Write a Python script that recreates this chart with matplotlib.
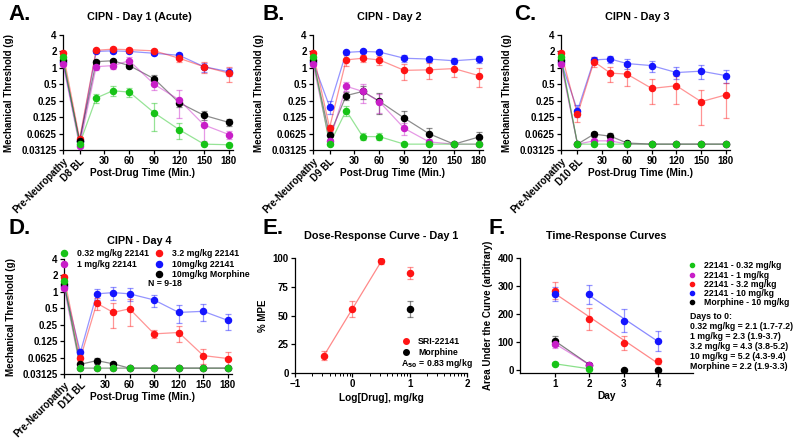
import numpy as np
import matplotlib
matplotlib.use('Agg')
import matplotlib.pyplot as plt
from matplotlib.ticker import FixedLocator, NullLocator
from matplotlib.lines import Line2D

plt.rcParams['font.family'] = ['Liberation Sans', 'DejaVu Sans']
plt.rcParams['font.weight'] = 'bold'
plt.rcParams['axes.labelweight'] = 'bold'
plt.rcParams['axes.titleweight'] = 'bold'

# ---------------- data ----------------
times = [-20, 0, 20, 40, 60, 90, 120, 150, 180]
time_ticks = [-20, 0, 30, 60, 90, 120, 150, 180]
time_ticklabels = ['Pre-Neuropathy', 'BL', '30', '60', '90', '120', '150', '180']
baseline_labels = ['D8 BL', 'D9 BL', 'D10 BL', 'D11 BL']
panel_titles = ['CIPN - Day 1 (Acute)', 'CIPN - Day 2', 'CIPN - Day 3', 'CIPN - Day 4']
y_ticks = [0.03125, 0.0625, 0.125, 0.25, 0.5, 1, 2, 4]
y_ticklabels = ['0.03125', '0.0625', '0.125', '0.25', '0.5', '1', '2', '4']

series_labels = ['0.32 mg/kg 22141', '1 mg/kg 22141', '3.2 mg/kg 22141',
                 '10mg/kg 22141', '10mg/kg Morphine']

# Day 1
d1_green = [1.55, 0.040, 0.28, 0.38, 0.36, 0.15, 0.074, 0.040, 0.039]
d1_green_err = [0.15, 0.003, 0.05, 0.08, 0.07, 0.08, 0.025, 0.002, 0.002]
d1_magenta = [1.20, 0.037, 1.05, 1.10, 1.35, 0.50, 0.26, 0.090, 0.060]
d1_magenta_err = [0.10, 0.002, 0.15, 0.15, 0.20, 0.10, 0.14, 0.045, 0.010]
d1_red = [1.90, 0.050, 2.10, 2.20, 2.15, 2.05, 1.50, 1.05, 0.80]
d1_red_err = [0.10, 0.005, 0.15, 0.20, 0.20, 0.15, 0.20, 0.25, 0.25]
d1_blue = [1.30, 0.045, 2.00, 2.05, 2.00, 1.85, 1.70, 1.05, 0.85]
d1_blue_err = [0.10, 0.003, 0.15, 0.15, 0.10, 0.15, 0.20, 0.20, 0.15]
d1_black = [1.40, 0.045, 1.30, 1.35, 1.10, 0.63, 0.23, 0.135, 0.100]
d1_black_err = [0.10, 0.003, 0.10, 0.10, 0.10, 0.10, 0.04, 0.025, 0.015]

# Day 2
d2_green = [1.55, 0.040, 0.165, 0.055, 0.055, 0.040, 0.040, 0.040, 0.040]
d2_green_err = [0.15, 0.002, 0.035, 0.008, 0.008, 0.002, 0.002, 0.002, 0.002]
d2_magenta = [1.20, 0.045, 0.46, 0.37, 0.24, 0.078, 0.044, 0.040, 0.040]
d2_magenta_err = [0.10, 0.003, 0.08, 0.14, 0.09, 0.020, 0.005, 0.002, 0.002]
d2_red = [1.90, 0.080, 1.40, 1.50, 1.40, 0.90, 0.92, 0.97, 0.72]
d2_red_err = [0.10, 0.010, 0.30, 0.20, 0.25, 0.30, 0.30, 0.30, 0.28]
d2_blue = [1.30, 0.195, 1.92, 2.00, 1.95, 1.50, 1.45, 1.35, 1.45]
d2_blue_err = [0.10, 0.050, 0.15, 0.10, 0.10, 0.20, 0.15, 0.15, 0.20]
d2_black = [1.40, 0.058, 0.31, 0.37, 0.245, 0.12, 0.062, 0.040, 0.054]
d2_black_err = [0.10, 0.008, 0.05, 0.10, 0.10, 0.04, 0.018, 0.003, 0.012]

# Day 3
d3_green = [1.55, 0.040, 0.040, 0.040, 0.040, 0.040, 0.040, 0.040, 0.040]
d3_green_err = [0.15, 0.001, 0.001, 0.001, 0.001, 0.001, 0.001, 0.001, 0.001]
d3_magenta = [1.20, 0.040, 0.046, 0.046, 0.040, 0.040, 0.040, 0.040, 0.040]
d3_magenta_err = [0.10, 0.001, 0.004, 0.004, 0.001, 0.001, 0.001, 0.001, 0.001]
d3_red = [1.90, 0.140, 1.30, 0.80, 0.77, 0.42, 0.47, 0.24, 0.32]
d3_red_err = [0.10, 0.040, 0.25, 0.25, 0.30, 0.20, 0.25, 0.15, 0.20]
d3_blue = [1.30, 0.165, 1.40, 1.45, 1.20, 1.10, 0.82, 0.87, 0.72]
d3_blue_err = [0.10, 0.040, 0.15, 0.20, 0.25, 0.25, 0.20, 0.25, 0.20]
d3_black = [1.40, 0.040, 0.061, 0.056, 0.042, 0.040, 0.040, 0.040, 0.040]
d3_black_err = [0.10, 0.001, 0.007, 0.008, 0.002, 0.001, 0.001, 0.001, 0.001]

# Day 4
d4_green = [1.55, 0.040, 0.040, 0.040, 0.040, 0.040, 0.040, 0.040, 0.040]
d4_green_err = [0.15, 0.001, 0.001, 0.001, 0.001, 0.001, 0.001, 0.001, 0.001]
d4_magenta = [1.20, 0.040, 0.040, 0.040, 0.040, 0.040, 0.040, 0.040, 0.040]
d4_magenta_err = [0.10, 0.001, 0.001, 0.001, 0.001, 0.001, 0.001, 0.001, 0.001]
d4_red = [1.90, 0.061, 0.62, 0.42, 0.49, 0.17, 0.18, 0.068, 0.060]
d4_red_err = [0.10, 0.008, 0.15, 0.20, 0.25, 0.03, 0.06, 0.020, 0.020]
d4_blue = [1.30, 0.078, 0.92, 0.97, 0.92, 0.71, 0.42, 0.44, 0.30]
d4_blue_err = [0.10, 0.010, 0.20, 0.25, 0.25, 0.18, 0.15, 0.15, 0.10]
d4_black = [1.40, 0.047, 0.055, 0.048, 0.040, 0.040, 0.040, 0.040, 0.040]
d4_black_err = [0.10, 0.003, 0.007, 0.003, 0.001, 0.001, 0.001, 0.001, 0.001]

# Dose response (Day 1)
dr_log_dose = [np.log10(0.32), 0.0, np.log10(3.2), 1.0]
dr_mpe = [15, 56, 97, 87]
dr_mpe_err = [4, 7, 2, 5]
dr_morph_log_dose = [1.0]
dr_morph_mpe = [56]
dr_morph_err = [7]

# Time response (AUC)
days = [1, 2, 3, 4]
auc_green = [23, 5]
auc_green_err = [6, 2]
auc_magenta = [95, 20]
auc_magenta_err = [15, 4]
auc_red = [283, 182, 97, 33]
auc_red_err = [30, 40, 25, 12]
auc_blue = [270, 270, 177, 105]
auc_blue_err = [25, 35, 40, 35]
auc_black = [105, 20, 0, 0]
auc_black_err = [18, 3, 0, 0]
auc_legend = ['22141 - 0.32 mg/kg', '22141 - 1 mg/kg', '22141 - 3.2 mg/kg',
              '22141 - 10 mg/kg', 'Morphine - 10 mg/kg']
days_to_zero = ['Days to 0:', '0.32 mg/kg = 2.1 (1.7-7.2)', '1 mg/kg = 2.3 (1.9-3.7)',
                '3.2 mg/kg = 4.3 (3.8-5.2)', '10 mg/kg = 5.2 (4.3-9.4)',
                'Morphine = 2.2 (1.9-3.3)']

# ---------------- style ----------------
C_GREEN = '#17c317'
C_MAG = '#c81ec8'
C_RED = '#ff1414'
C_BLUE = '#1414ff'
C_BLACK = '#000000'
TICK_FS = 7.0
LAB_FS = 7.3
TITLE_FS = 7.8
LEG_FS = 6.3
MS = 4.4

W, H = 800, 438
fig = plt.figure(figsize=(W / 100, H / 100), dpi=100)


def px_axes(left, top, right, bottom):
    return fig.add_axes([left / W, 1 - bottom / H, (right - left) / W, (bottom - top) / H])


def style_axes(ax):
    for s in ('top', 'right'):
        ax.spines[s].set_visible(False)
    for s in ('left', 'bottom'):
        ax.spines[s].set_linewidth(0.9)
    ax.tick_params(axis='both', which='major', length=3, width=0.9, labelsize=TICK_FS, pad=1.5)
    ax.tick_params(axis='both', which='minor', length=1.8, width=0.7)
    for lbl in ax.get_xticklabels() + ax.get_yticklabels():
        lbl.set_fontweight('bold')


def threshold_panel(ax, series, bl_label, title):
    for i, (col, mean, err) in enumerate(series):
        ax.errorbar(times, mean, yerr=err, color=col, alpha=0.45, lw=0.9,
                    elinewidth=0.9, capsize=2, capthick=0.9, zorder=2 + i, clip_on=False)
        ax.plot(times, mean, 'o', color=col, ms=MS, zorder=10 + i, clip_on=False)
    ax.set_yscale('log', base=2)
    ax.set_ylim(0.03125, 4)
    ax.yaxis.set_major_locator(FixedLocator(y_ticks))
    ax.set_yticklabels(y_ticklabels)
    ax.yaxis.set_minor_locator(NullLocator())
    ax.set_xlim(-20, 185)
    ax.set_xticks(time_ticks)
    labels = list(time_ticklabels)
    labels[1] = bl_label
    ax.set_xticklabels(labels)
    style_axes(ax)
    for lbl in ax.get_xticklabels()[:2]:
        lbl.set_rotation(45)
        lbl.set_ha('right')
        lbl.set_rotation_mode('anchor')
    ax.set_ylabel('Mechanical Threshold (g)', fontsize=TICK_FS, fontweight='bold')
    ax.yaxis.set_label_coords(-49 / 170, 0.5)
    ax.set_xlabel('Post-Drug Time (Min.)', fontsize=LAB_FS, fontweight='bold')
    ax.xaxis.set_label_coords(0.47, -0.2)
    ax.xaxis.label.set_va('center')
    ax.set_title(title, fontsize=TITLE_FS, fontweight='bold', x=0.45, pad=11)


day_series = [
    [(C_BLUE, d1_blue, d1_blue_err), (C_RED, d1_red, d1_red_err), (C_BLACK, d1_black, d1_black_err),
     (C_MAG, d1_magenta, d1_magenta_err), (C_GREEN, d1_green, d1_green_err)],
    [(C_BLUE, d2_blue, d2_blue_err), (C_RED, d2_red, d2_red_err), (C_BLACK, d2_black, d2_black_err),
     (C_MAG, d2_magenta, d2_magenta_err), (C_GREEN, d2_green, d2_green_err)],
    [(C_BLUE, d3_blue, d3_blue_err), (C_RED, d3_red, d3_red_err), (C_BLACK, d3_black, d3_black_err),
     (C_MAG, d3_magenta, d3_magenta_err), (C_GREEN, d3_green, d3_green_err)],
    [(C_BLUE, d4_blue, d4_blue_err), (C_RED, d4_red, d4_red_err), (C_BLACK, d4_black, d4_black_err),
     (C_MAG, d4_magenta, d4_magenta_err), (C_GREEN, d4_green, d4_green_err)],
]

axA = px_axes(63, 35, 233, 150)
axB = px_axes(313, 35, 483, 150)
axC = px_axes(561, 35, 730, 150)
axD = px_axes(64, 259, 232, 374)
for ax, ser, bl, ttl in zip([axA, axB, axC, axD], day_series, baseline_labels, panel_titles):
    threshold_panel(ax, ser, bl, ttl)


def h(c, l, ms=MS):
    return Line2D([], [], ls='none', marker='o', color=c, ms=ms, label=l)


# Legend in D
blank = Line2D([], [], ls='none', marker=None, label=' ')
handles = [h(C_GREEN, series_labels[0]), h(C_MAG, series_labels[1]), blank,
           h(C_RED, series_labels[2]), h(C_BLUE, series_labels[3]), h(C_BLACK, series_labels[4])]
fig.legend(handles=handles, ncol=2, loc='upper left',
           bbox_to_anchor=(56 / W, 1 - 246 / H), frameon=False,
           prop={'size': LEG_FS, 'weight': 'bold'}, handletextpad=1.0,
           columnspacing=0.6, labelspacing=0.17, handlelength=1.0, borderaxespad=0)
fig.text(148 / W, 1 - 284 / H, 'N = 9-18', fontsize=LEG_FS, fontweight='bold', va='center', ha='left')

# ---------------- E: dose response ----------------
axE = px_axes(295, 258, 467, 373)
fit = np.polyfit(dr_log_dose[:3], dr_mpe[:3], 1)
xf = np.array([dr_log_dose[0], dr_log_dose[2]])
axE.plot(xf, np.polyval(fit, xf), color=C_RED, alpha=0.5, lw=0.9)
axE.errorbar(dr_log_dose, dr_mpe, yerr=dr_mpe_err, ls='none', color=C_RED, alpha=0.45,
             elinewidth=0.9, capsize=2, capthick=0.9)
axE.plot(dr_log_dose, dr_mpe, 'o', color=C_RED, ms=MS, zorder=5)
axE.errorbar(dr_morph_log_dose, dr_morph_mpe, yerr=dr_morph_err, ls='none', color=C_BLACK,
             alpha=0.45, elinewidth=0.9, capsize=2, capthick=0.9)
axE.plot(dr_morph_log_dose, dr_morph_mpe, 'o', color=C_BLACK, ms=MS, zorder=5)
axE.set_xlim(-1, 2)
axE.set_ylim(0, 100)
axE.set_xticks([-1, 0, 1, 2])
axE.set_yticks([0, 25, 50, 75, 100])
minor = [d + np.log10(k) for d in (-1, 0, 1) for k in range(2, 10)]
axE.xaxis.set_minor_locator(FixedLocator(minor))
style_axes(axE)
axE.set_ylabel('% MPE', fontsize=TICK_FS, fontweight='bold')
axE.yaxis.set_label_coords(-27 / 172, 0.5)
axE.set_xlabel('Log[Drug], mg/kg', fontsize=LAB_FS, fontweight='bold')
axE.xaxis.set_label_coords(0.5, -0.217)
axE.xaxis.label.set_va('center')
axE.set_title('Dose-Response Curve - Day 1', fontsize=TITLE_FS, fontweight='bold', pad=14)
axE.legend(handles=[h(C_RED, 'SRI-22141', 4), h(C_BLACK, 'Morphine', 4)], loc='upper left',
           bbox_to_anchor=(398 / W, 1 - 334 / H), bbox_transform=fig.transFigure,
           frameon=False, prop={'size': LEG_FS, 'weight': 'bold'}, handlelength=1.0,
           handletextpad=0.9, labelspacing=0.2, borderaxespad=0)
fig.text(401 / W, 1 - 363 / H, r'A$_{\mathbf{50}}$ = 0.83 mg/kg', fontsize=LEG_FS,
         fontweight='bold', va='center', ha='left')

# ---------------- F: time response ----------------
axF = px_axes(520, 258, 693, 373)
red_fit = np.polyfit(days, auc_red, 1)
xr = np.array([1, 4])
axF.plot(xr, np.polyval(red_fit, xr), color=C_RED, alpha=0.5, lw=0.9)
blue_fit = np.polyfit(days[1:], auc_blue[1:], 1)
xb = np.array([2, 4])
axF.plot(xb, np.polyval(blue_fit, xb), color=C_BLUE, alpha=0.5, lw=0.9)
axF.plot(days[:2], auc_black[:2], color=C_BLACK, alpha=0.5, lw=0.9)
axF.plot(days[:2], auc_magenta, color=C_MAG, alpha=0.5, lw=0.9)
axF.plot(days[:2], auc_green, color=C_GREEN, alpha=0.5, lw=0.9)
for i, (col, xs, vals, errs) in enumerate([
        (C_RED, days, auc_red, auc_red_err), (C_BLUE, days, auc_blue, auc_blue_err),
        (C_BLACK, days, auc_black, auc_black_err), (C_MAG, days[:2], auc_magenta, auc_magenta_err),
        (C_GREEN, days[:2], auc_green, auc_green_err)]):
    axF.errorbar(xs, vals, yerr=errs, ls='none', color=col, alpha=0.45, elinewidth=0.9,
                 capsize=2, capthick=0.9, zorder=2 + i)
    axF.plot(xs, vals, 'o', color=col, ms=MS, zorder=10 + i)
axF.set_xlim(0, 5)
axF.set_ylim(-10, 400)
axF.set_xticks([1, 2, 3, 4])
axF.set_yticks([0, 100, 200, 300, 400])
style_axes(axF)
axF.set_ylabel('Area Under the Curve (arbitrary)', fontsize=TICK_FS, fontweight='bold')
axF.yaxis.set_label_coords(-27 / 173, 0.5)
axF.set_xlabel('Day', fontsize=LAB_FS, fontweight='bold')
axF.xaxis.set_label_coords(0.5, -0.2)
axF.xaxis.label.set_va('center')
axF.set_title('Time-Response Curves', fontsize=TITLE_FS, fontweight='bold', pad=14)
fhandles = [h(C_GREEN, auc_legend[0], 3), h(C_MAG, auc_legend[1], 3), h(C_RED, auc_legend[2], 3),
            h(C_BLUE, auc_legend[3], 3), h(C_BLACK, auc_legend[4], 3)]
fig.legend(handles=fhandles, loc='upper left', bbox_to_anchor=(684 / W, 1 - 258 / H),
           frameon=False, prop={'size': LEG_FS, 'weight': 'bold'}, handlelength=1.0,
           handletextpad=0.9, labelspacing=0.02, borderaxespad=0)
for i, line in enumerate(days_to_zero):
    fig.text(690 / W, 1 - (316.5 + i * 10.0) / H, line, fontsize=LEG_FS, fontweight='bold',
             va='center', ha='left')

# ---------------- panel letters ----------------
for letter, x, y in [('A.', 8, 15), ('B.', 262, 15), ('C.', 514, 15),
                     ('D.', 8, 228), ('E.', 262, 228), ('F.', 488, 228)]:
    fig.text(x / W, 1 - y / H, letter, fontsize=16, fontweight='bold', va='center', ha='left')

fig.savefig('out.png', dpi=100)
